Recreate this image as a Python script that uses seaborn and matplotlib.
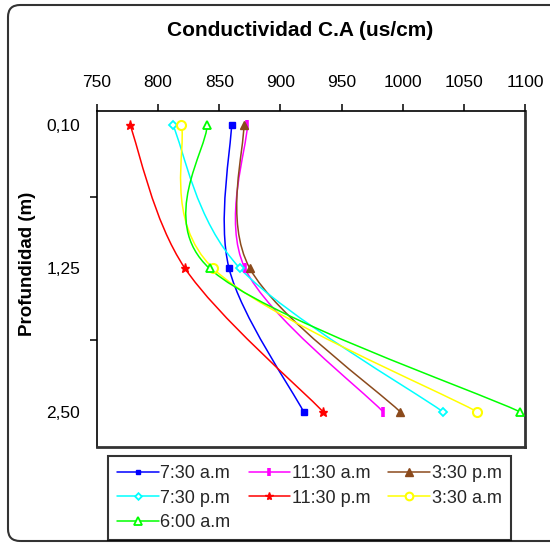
import numpy as np
import pandas as pd
import seaborn as sns
import matplotlib.pyplot as plt
from matplotlib.path import Path
from matplotlib.patches import PathPatch, FancyBboxPatch
from matplotlib.lines import Line2D

# ---------------- data ----------------
depth_labels = ["0,10", "1,25", "2,50"]
series_names = ["7:30 a.m", "11:30 a.m", "3:30 p.m", "7:30 p.m",
                "11:30 p.m", "3:30 a.m", "6:00 a.m"]
cond_0730am = [860, 858, 919]
cond_1130am = [873, 871, 984]
cond_0330pm = [870, 875, 998]
cond_0730pm = [812, 867, 1033]
cond_1130pm = [777, 822, 935]
cond_0330am = [819, 845, 1061]
cond_0600am = [840, 842, 1096]
x_ticks = [750, 800, 850, 900, 950, 1000, 1050, 1100]

series_values = [cond_0730am, cond_1130am, cond_0330pm, cond_0730pm,
                 cond_1130pm, cond_0330am, cond_0600am]

# ---------------- styles ----------------
styles = {
    "7:30 a.m":  dict(color="#0000FF", marker="s", ms=4.2, mfc="#0000FF", mew=1.0),
    "11:30 a.m": dict(color="#FF00FF", marker="|", ms=6.5, mfc="#FF00FF", mew=2.6),
    "3:30 p.m":  dict(color="#8B4A1C", marker="^", ms=6.0, mfc="#8B4A1C", mew=1.0),
    "7:30 p.m":  dict(color="#00FFFF", marker="D", ms=4.0, mfc="white", mew=1.3),
    "11:30 p.m": dict(color="#FF0000", marker="*", ms=6.8, mfc="#FF0000", mew=1.0),
    "3:30 a.m":  dict(color="#FFFF00", marker="o", ms=6.5, mfc="white", mew=1.5),
    "6:00 a.m":  dict(color="#00FF00", marker="^", ms=6.0, mfc="white", mew=1.3),
}

sns.set_theme(style="white")
plt.rcParams['font.family'] = ['Liberation Sans', 'DejaVu Sans']

W, H = 550, 544
fig = plt.figure(figsize=(W / 100, H / 100), dpi=100)
fig.patch.set_facecolor("white")

# outer rounded chart border
border = FancyBboxPatch((8 / W, 1 - 541 / H), 560 / W, 536 / H,
                        boxstyle="round,pad=0,rounding_size=0.022",
                        transform=fig.transFigure, fill=False,
                        edgecolor="#333333", linewidth=1.5, zorder=0)
fig.patches.append(border)

ax = fig.add_axes([97 / W, 1 - 447 / H, (525 - 97) / W, (447 - 111) / H])
ax.set_facecolor("white")

pos = np.arange(len(depth_labels))


def smooth_path(xs, ys):
    P = np.column_stack([xs, ys]).astype(float)
    n = len(P)
    T = np.zeros_like(P)
    for i in range(n):
        T[i] = (P[min(i + 1, n - 1)] - P[max(i - 1, 0)]) / 2.0
    verts = [P[0]]
    codes = [Path.MOVETO]
    for i in range(n - 1):
        verts += [P[i] + T[i] / 3.0, P[i + 1] - T[i + 1] / 3.0, P[i + 1]]
        codes += [Path.CURVE4] * 3
    return Path(np.array(verts), codes)


handles = {}
for name, vals in zip(series_names, series_values):
    st = styles[name]
    df = pd.DataFrame({"cond": vals, "depth": pos})
    # smoothed line (Excel-like smoothed scatter)
    patch = PathPatch(smooth_path(df["cond"], df["depth"]), facecolor="none",
                      edgecolor=st["color"], linewidth=1.1, zorder=2)
    ax.add_patch(patch)
    sns.lineplot(data=df, x="cond", y="depth", orient="y", sort=False,
                 estimator=None, linestyle="none", marker=st["marker"],
                 markersize=st["ms"], color=st["color"],
                 markerfacecolor=st["mfc"], markeredgecolor=st["color"],
                 markeredgewidth=st["mew"], ax=ax, zorder=3, legend=False)
    handles[name] = Line2D([], [], color=st["color"], linewidth=1.1,
                           marker=st["marker"], markersize=st["ms"] * 0.85,
                           markerfacecolor=st["mfc"],
                           markeredgecolor=st["color"],
                           markeredgewidth=st["mew"])

ax.set_xlim(750, 1100)
ax.set_ylim(2.245, -0.098)
ax.set_xlabel("")
ax.set_ylabel("")

ax.xaxis.tick_top()
ax.set_xticks(x_ticks)
ax.set_xticklabels([str(v) for v in x_ticks])
ax.tick_params(axis="x", which="major", top=True, bottom=False,
               direction="out", length=5, width=1.1, color="black",
               labelsize=12.5, pad=10, labelcolor="black")

ax.set_yticks(pos)
ax.set_yticklabels(depth_labels)
ax.set_yticks([0.5, 1.5], minor=True)
ax.tick_params(axis="y", which="major", left=True, length=0, labelsize=12.5,
               pad=12, labelcolor="black")
ax.tick_params(axis="y", which="minor", left=True, direction="out",
               length=5, width=1.1, color="black")

for side in ["top", "left"]:
    ax.spines[side].set_visible(True)
    ax.spines[side].set_color("black")
    ax.spines[side].set_linewidth(1.2)
for side in ["right", "bottom"]:
    ax.spines[side].set_visible(True)
    ax.spines[side].set_color("#333333")
    ax.spines[side].set_linewidth(2.0)
ax.grid(False)

fig.text(300 / W, 1 - 31 / H, "Conductividad C.A (us/cm)", ha="center",
         va="center", fontsize=15, fontweight="bold", color="black")
fig.text(28 / W, 1 - 264 / H, "Profundidad (m)", ha="center", va="center",
         rotation=90, fontsize=13.5, fontweight="bold", color="black")

order = ["7:30 a.m", "7:30 p.m", "6:00 a.m", "11:30 a.m", "11:30 p.m",
         "3:30 p.m", "3:30 a.m"]
leg = fig.legend([handles[n] for n in order], order, ncol=3,
                 loc="upper left", bbox_to_anchor=(108 / W, 1 - 456 / H),
                 bbox_transform=fig.transFigure, fontsize=13,
                 frameon=True, fancybox=False, borderpad=0.5,
                 handlelength=2.3, handletextpad=0.1, columnspacing=1.0,
                 labelspacing=0.42, borderaxespad=0)
leg.get_frame().set_edgecolor("black")
leg.get_frame().set_linewidth(1.5)

fig.savefig("out.png", dpi=100, facecolor="white")
